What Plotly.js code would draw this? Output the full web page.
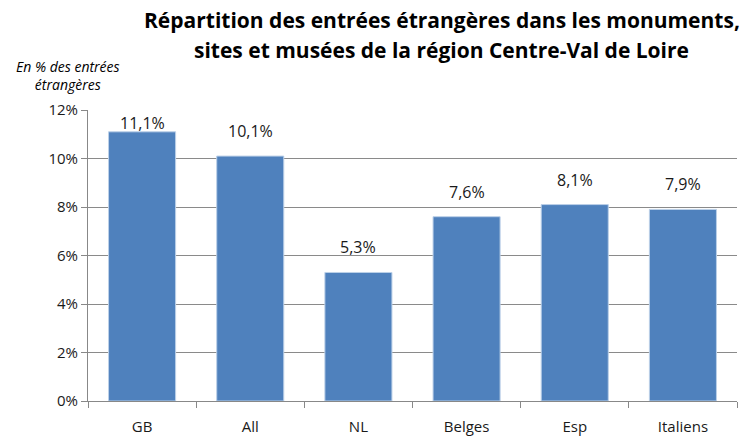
<!DOCTYPE html>
<html><head><meta charset="utf-8">
<script src="https://cdn.plot.ly/plotly-3.0.1.min.js"></script>
<style>html,body{margin:0;padding:0;background:#fff}#c{width:744px;height:436px}</style>
</head><body><div id="c"></div>
<script>
const categories = ["GB", "All", "NL", "Belges", "Esp", "Italiens"];
const values = [11.1, 10.1, 5.3, 7.6, 8.1, 7.9];
const yTicks = [0, 2, 4, 6, 8, 10, 12];
const titleLines = ["Répartition des entrées étrangères dans les monuments,", "sites et musées de la région Centre-Val de Loire"];
const yNote = "En % des entrées<br>étrangères";

const fmt = v => v.toFixed(1).replace('.', ',') + '%';
const font = "'Open Sans', sans-serif";

const labelAnns = categories.map((c, i) => ({
  x: c, y: values[i], xref: 'x', yref: 'y', text: fmt(values[i]),
  showarrow: false, yanchor: 'bottom', yshift: i === 0 ? -4 : 12,
  font: {family: font, size: 16, color: '#1a1a1a'}
}));

const layout = {
  width: 744, height: 436,
  margin: {l: 88, r: 7, t: 110, b: 35},
  paper_bgcolor: '#fff', plot_bgcolor: '#fff',
  showlegend: false,
  bargap: 0.38,
  font: {family: font, size: 14, color: '#1a1a1a'},
  xaxis: {
    type: 'category', tickson: 'boundaries', ticks: 'outside', ticklen: 6,
    tickcolor: '#888', showline: true, linecolor: '#888', linewidth: 1,
    showgrid: false, ticklabelstandoff: 12,
    tickfont: {family: font, size: 15, color: '#1a1a1a'}
  },
  yaxis: {
    range: [0, 12], tickvals: yTicks, ticktext: yTicks.map(t => t + '%'),
    ticks: 'outside', ticklen: 6, tickcolor: '#888',
    showline: true, linecolor: '#888', linewidth: 1,
    showgrid: true, gridcolor: '#8a8a8a', gridwidth: 1, zeroline: false,
    tickfont: {family: font, size: 15, color: '#1a1a1a'}, ticklabelstandoff: 0
  },
  annotations: [
    {xref: 'paper', yref: 'paper', x: 0.545, y: 1.309, text: '<b>' + titleLines[0] + '</b>',
     showarrow: false, xanchor: 'center', yanchor: 'middle', font: {family: font, size: 21, color: '#000'}},
    {xref: 'paper', yref: 'paper', x: 0.545, y: 1.206, text: '<b>' + titleLines[1] + '</b>',
     showarrow: false, xanchor: 'center', yanchor: 'middle', font: {family: font, size: 21, color: '#000'}},
    {xref: 'paper', yref: 'paper', x: -0.031, y: 1.117, text: '<i>' + yNote + '</i>',
     showarrow: false, xanchor: 'center', yanchor: 'middle', align: 'center',
     font: {family: font, size: 14, color: '#000'}}
  ].concat(labelAnns)
};

Plotly.newPlot('c', [{
  type: 'bar', x: categories, y: values,
  marker: {color: '#4f81bd', line: {color: '#bcd0e8', width: 1}},
  hoverinfo: 'none', cliponaxis: false
}], layout, {displayModeBar: false, staticPlot: true});
</script></body></html>
